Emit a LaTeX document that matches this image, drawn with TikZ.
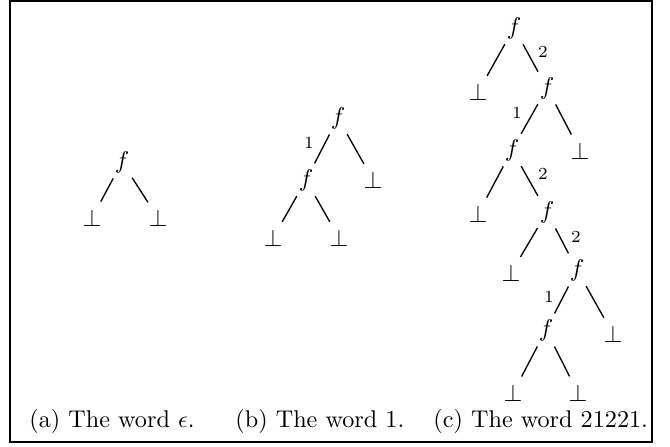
\documentclass[tikz,border=0pt]{standalone}
\begin{document}
\begin{tikzpicture}[x=0.4133pt,y=-0.4133pt]
\tikzset{
  tn/.style={circle, inner sep=0pt, minimum size=15pt, font=\fontsize{10}{12}\selectfont},
  lab/.style={inner sep=0pt, font=\fontsize{7}{8}\selectfont},
  treeedge/.style={line width=0.55pt},
  captxt/.style={anchor=base west, inner sep=0pt, font=\fontsize{10}{12}\selectfont},
  framebox/.style={line width=0.83pt},
}
\useasboundingbox (0,0) rectangle (670,447);
\draw[framebox] (10,1) rectangle (652,442);

% (a)
\node[tn] (fa) at (122,162) {$f$};
\node[tn] (a1) at (92,218) {$\bot$};
\node[tn] (a2) at (158,218) {$\bot$};
\draw[treeedge] (fa) -- (a1);
\draw[treeedge] (fa) -- (a2);

% (b)
\node[tn] (fb) at (338,118) {$f$};
\node[tn] (fb1) at (306,180) {$f$};
\node[tn] (bb) at (373,180) {$\bot$};
\node[tn] (bb1) at (273,238) {$\bot$};
\node[tn] (bb2) at (339,238) {$\bot$};
\draw[treeedge] (fb) -- (fb1);
\draw[treeedge] (fb) -- (bb);
\draw[treeedge] (fb1) -- (bb1);
\draw[treeedge] (fb1) -- (bb2);
\node[lab] (lb1) at (309,143) {1};

% (c)
\node[tn] (c0) at (514,28) {$f$};
\node[tn] (c1l) at (478,92) {$\bot$};
\node[tn] (c1) at (547,88) {$f$};
\node[tn] (c2) at (512,150) {$f$};
\node[tn] (c2r) at (580,151) {$\bot$};
\node[tn] (c3l) at (478,214) {$\bot$};
\node[tn] (c3) at (547,212) {$f$};
\node[tn] (c4l) at (511,273) {$\bot$};
\node[tn] (c4) at (577,270) {$f$};
\node[tn] (c5) at (546,330) {$f$};
\node[tn] (c5r) at (613,334) {$\bot$};
\node[tn] (c6l) at (513,393) {$\bot$};
\node[tn] (c6r) at (578,393) {$\bot$};
\draw[treeedge] (c0) -- (c1l);
\draw[treeedge] (c0) -- (c1);
\draw[treeedge] (c1) -- (c2);
\draw[treeedge] (c1) -- (c2r);
\draw[treeedge] (c2) -- (c3l);
\draw[treeedge] (c2) -- (c3);
\draw[treeedge] (c3) -- (c4l);
\draw[treeedge] (c3) -- (c4);
\draw[treeedge] (c4) -- (c5);
\draw[treeedge] (c4) -- (c5r);
\draw[treeedge] (c5) -- (c6l);
\draw[treeedge] (c5) -- (c6r);
\node[lab] (lc1) at (543,52) {2};
\node[lab] (lc2) at (517,113) {1};
\node[lab] (lc3) at (543,174) {2};
\node[lab] (lc4) at (576,237) {2};
\node[lab] (lc5) at (549,297) {1};

% captions
\node[captxt] (capa) at (29,428) {(a) The word $\epsilon$.};
\node[captxt] (capb) at (235,428) {(b) The word 1.};
\node[captxt] (capc) at (433,428) {(c) The word 21221.};
\end{tikzpicture}
\end{document}
